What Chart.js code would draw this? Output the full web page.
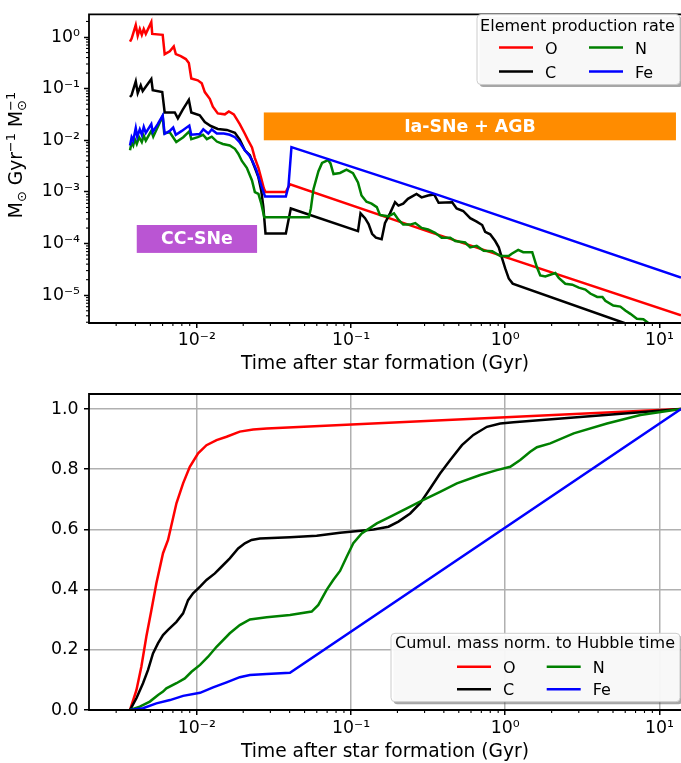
<!DOCTYPE html>
<html><head><meta charset="utf-8">
<script src="https://cdn.jsdelivr.net/npm/chart.js@4/dist/chart.umd.min.js"></script>
<style>
html,body{margin:0;padding:0;background:#fff;overflow:hidden;width:681px;height:763px;}
.wrap{position:absolute;left:0;width:681px;}
</style></head><body>
<div class="wrap" style="top:0;height:375px"><canvas id="c1" width="681" height="375"></canvas></div>
<div class="wrap" style="top:375px;height:388px"><canvas id="c2" width="681" height="388"></canvas></div>
<script>
// ---------------- DATA ----------------
const elementNames = ['O', 'C', 'N', 'Fe'];
const timeRange = [0.002, 13.8];          // Gyr
const rateRange = [2.9e-6, 2.74];         // Msun / Gyr / Msun
const cumulRange = [0, 1.05];
const xTickValues = [0.01, 0.1, 1, 10];
const xTickLabels = ['10⁻²', '10⁻¹', '10⁰', '10¹'];
const rateTickValues = [1e-5, 1e-4, 1e-3, 1e-2, 1e-1, 1];
const rateTickLabels = ['10⁻⁵', '10⁻⁴', '10⁻³', '10⁻²', '10⁻¹', '10⁰'];
const cumulTickValues = [0, 0.2, 0.4, 0.6, 0.8, 1.0];
const cumulTickLabels = ['0.0', '0.2', '0.4', '0.6', '0.8', '1.0'];

// production rate [time (Gyr), rate]
const rateO = [[0.00369,0],[0.00369,0.816],[0.00378,0.93],[0.00402,1.70],[0.00414,1.06],[0.00427,1.43],[0.00440,1.10],[0.00453,1.43],[0.00467,1.15],[0.00507,1.94],[0.00514,1.15],[0.00601,1.10],[0.00619,0.465],[0.00668,0.53],[0.00709,0.657],[0.00731,0.465],[0.00787,0.426],[0.00849,0.374],[0.00888,0.315],[0.00921,0.157],[0.01015,0.145],[0.01077,0.127],[0.01127,0.0859],[0.01214,0.0635],[0.01271,0.0449],[0.01368,0.0332],[0.0152,0.0318],[0.01614,0.0362],[0.01738,0.0318],[0.0190,0.0205],[0.0205,0.01337],[0.0214,0.0103],[0.0228,0.0073],[0.0238,0.00453],[0.0251,0.00294],[0.0262,0.00182],[0.0272,0.00118],[0.0279,0.0010],[0.0378,0.0010],[0.0402,0.00141],[0.326,1.67e-4],[13.8,4.1e-6]];
const rateC = [[0.00369,0],[0.00369,0.0689],[0.00378,0.0755],[0.00402,0.138],[0.00414,0.0823],[0.00433,0.116],[0.00446,0.0898],[0.00507,0.154],[0.00518,0.0937],[0.00597,0.0859],[0.00619,0.0346],[0.00720,0.0346],[0.00754,0.0267],[0.00811,0.0394],[0.00888,0.0608],[0.00921,0.0346],[0.01045,0.0304],[0.01127,0.0225],[0.01233,0.0189],[0.01368,0.0166],[0.01567,0.0159],[0.01767,0.01396],[0.0190,0.0103],[0.0205,0.0064],[0.0221,0.00515],[0.0238,0.00294],[0.0251,0.00191],[0.0262,0.00104],[0.0270,5.2e-4],[0.0279,1.57e-4],[0.0378,1.57e-4],[0.0407,4.78e-4],[0.111,1.74e-4],[0.1153,3.85e-4],[0.1233,3.10e-4],[0.130,2.39e-4],[0.137,1.55e-4],[0.145,1.30e-4],[0.158,1.22e-4],[0.166,2.49e-4],[0.179,3.85e-4],[0.193,6.32e-4],[0.203,5.43e-4],[0.218,5.93e-4],[0.234,7.36e-4],[0.266,9.14e-4],[0.287,7.85e-4],[0.316,8.55e-4],[0.346,8.93e-4],[0.370,6.18e-4],[0.453,6.32e-4],[0.484,4.78e-4],[0.534,4.28e-4],[0.593,3.10e-4],[0.653,2.66e-4],[0.709,2.29e-4],[0.741,1.69e-4],[0.799,1.51e-4],[0.861,1.12e-4],[0.908,8.45e-5],[0.949,5.48e-5],[1.0,3.30e-5],[1.054,2.11e-5],[1.118,1.68e-5],[6.17,2.77e-6],[13.8,1.18e-6]];
const rateN = [[0.00369,0],[0.00369,6.41e-3],[0.00378,9.06e-3],[0.00387,7.94e-3],[0.00396,0.01054],[0.00408,8.49e-3],[0.00423,0.01148],[0.00440,9.25e-3],[0.00453,0.01225],[0.00467,9.87e-3],[0.00507,0.0152],[0.00522,0.01175],[0.00601,0.0291],[0.00615,0.01365],[0.00668,0.01426],[0.00736,9.25e-3],[0.00817,0.01148],[0.00894,0.0149],[0.00921,0.01054],[0.01015,0.01148],[0.01097,0.0128],[0.01162,0.01054],[0.0125,0.01175],[0.01349,9.46e-3],[0.01476,8.49e-3],[0.01637,7.94e-3],[0.01767,6.84e-3],[0.01858,5.51e-3],[0.0196,3.98e-3],[0.0211,2.94e-3],[0.0228,1.67e-3],[0.0238,9.95e-4],[0.0251,9.14e-4],[0.0262,5.93e-4],[0.0274,3.23e-4],[0.0533,3.23e-4],[0.0549,4.78e-4],[0.0571,1.13e-3],[0.0615,2.52e-3],[0.0649,3.65e-3],[0.0710,4.15e-3],[0.0736,3.57e-3],[0.0770,2.22e-3],[0.0849,2.33e-3],[0.0935,2.69e-3],[0.103,2.32e-3],[0.111,1.53e-3],[0.117,8.55e-4],[0.126,6.45e-4],[0.136,5.93e-4],[0.147,5.09e-4],[0.154,3.60e-4],[0.174,3.37e-4],[0.190,3.85e-4],[0.203,2.90e-4],[0.218,2.33e-4],[0.242,2.33e-4],[0.261,2.49e-4],[0.287,2.01e-4],[0.316,1.87e-4],[0.351,1.62e-4],[0.387,1.30e-4],[0.440,1.30e-4],[0.474,1.12e-4],[0.550,1.05e-4],[0.593,8.45e-5],[0.653,9.02e-5],[0.725,7.26e-5],[0.824,7.11e-5],[0.929,5.73e-5],[1.054,5.73e-5],[1.102,6.38e-5],[1.214,7.58e-5],[1.309,6.81e-5],[1.497,6.81e-5],[1.602,3.56e-5],[1.687,2.41e-5],[1.820,2.31e-5],[2.113,2.69e-5],[2.225,2.16e-5],[2.452,1.67e-5],[2.723,1.60e-5],[3.00,1.40e-5],[3.31,1.29e-5],[3.56,1.08e-5],[3.95,9.29e-6],[4.27,9.29e-6],[4.46,7.82e-6],[5.02,6.30e-6],[5.58,6.03e-6],[6.01,5.07e-6],[6.48,4.36e-6],[7.14,3.51e-6],[7.87,3.44e-6],[8.55,2.83e-6],[10.5,2.0e-6],[13.8,1.4e-6]];
const rateFe = [[0.00369,0],[0.00369,7.94e-3],[0.00378,0.01148],[0.00387,9.87e-3],[0.00402,0.01733],[0.00411,0.01175],[0.00427,0.01625],[0.00440,0.0128],[0.00453,0.01811],[0.00467,0.01396],[0.00507,0.0206],[0.00518,0.0146],[0.00558,0.0206],[0.00601,0.0304],[0.00619,0.01337],[0.00668,0.0152],[0.00703,0.0177],[0.00731,0.0128],[0.00800,0.0152],[0.00894,0.0193],[0.00921,0.0128],[0.01045,0.0132],[0.01102,0.0164],[0.01188,0.01355],[0.0125,0.01625],[0.01349,0.01355],[0.01497,0.01355],[0.01637,0.0128],[0.01767,0.01148],[0.0190,9.06e-3],[0.0205,6.40e-3],[0.0218,5.15e-3],[0.0228,4.15e-3],[0.0243,2.69e-3],[0.0262,1.32e-3],[0.0277,8.20e-4],[0.0378,8.20e-4],[0.0393,1.29e-3],[0.0411,7.38e-3],[0.378,8.49e-4],[13.8,2.21e-5]];

// cumulative mass normalised to Hubble time [time (Gyr), fraction]
const cumulO = [[0.00369,0],[0.00406,0.066],[0.00437,0.144],[0.00471,0.244],[0.00508,0.332],[0.00547,0.421],[0.00604,0.521],[0.00651,0.565],[0.00738,0.687],[0.00815,0.753],[0.00901,0.808],[0.0102,0.853],[0.01156,0.880],[0.01343,0.897],[0.0156,0.908],[0.0190,0.925],[0.0232,0.932],[0.0284,0.935],[13.8,1.0]];
const cumulC = [[0.00369,0],[0.00406,0.039],[0.00448,0.089],[0.00483,0.133],[0.00520,0.188],[0.00561,0.222],[0.00604,0.249],[0.00651,0.266],[0.00738,0.293],[0.00815,0.321],[0.00878,0.365],[0.00946,0.388],[0.0105,0.410],[0.01156,0.432],[0.0131,0.454],[0.01446,0.476],[0.01637,0.504],[0.01854,0.537],[0.0205,0.554],[0.02265,0.565],[0.02565,0.570],[0.0402,0.574],[0.0599,0.579],[0.0849,0.589],[0.140,0.600],[0.175,0.609],[0.203,0.626],[0.242,0.653],[0.281,0.687],[0.326,0.736],[0.378,0.786],[0.440,0.831],[0.524,0.880],[0.622,0.914],[0.761,0.941],[0.929,0.952],[1.132,0.956],[2.78,0.972],[7.53,0.989],[13.8,1.0]];
const cumulN = [[0.00369,0],[0.00427,0.011],[0.00496,0.028],[0.00561,0.050],[0.00604,0.061],[0.00635,0.072],[0.00738,0.089],[0.00836,0.105],[0.00924,0.127],[0.0105,0.150],[0.01184,0.177],[0.01343,0.210],[0.01637,0.255],[0.0190,0.282],[0.0221,0.301],[0.0284,0.308],[0.0402,0.316],[0.0556,0.327],[0.0614,0.349],[0.0695,0.399],[0.0767,0.432],[0.0849,0.462],[0.0938,0.509],[0.1035,0.554],[0.1173,0.587],[0.147,0.620],[0.179,0.642],[0.230,0.670],[0.295,0.698],[0.378,0.725],[0.486,0.753],[0.689,0.781],[0.883,0.797],[1.078,0.808],[1.251,0.831],[1.452,0.858],[1.606,0.873],[1.959,0.886],[2.78,0.919],[4.57,0.952],[7.53,0.980],[13.8,1.0]];
const cumulFe = [[0.00369,0],[0.00448,0.006],[0.00547,0.022],[0.00670,0.033],[0.00815,0.047],[0.0105,0.057],[0.01276,0.075],[0.0156,0.092],[0.0190,0.109],[0.0221,0.116],[0.0284,0.120],[0.0402,0.124],[13.8,1.0]];

// annotation regions (time range, rate range)
const phaseLabels = ['CC-SNe', 'Ia-SNe + AGB'];
const phaseTimes = [[0.00408, 0.0246], [0.0272, 12.8]];
const phaseRates = [[6.6e-5, 2.29e-4], [0.01, 0.0346]];

// ---------------- STYLE ----------------
const FONT = '"DejaVu Sans", sans-serif';
const FS_TICK = 17.33, FS_LABEL = 18.67, FS_LEG = 16;
const LW = 2.5;
const lineColors = { O: '#ff0000', C: '#000000', N: '#008000', Fe: '#0000ff' };
const phaseColors = ['#ba55d3', '#ff8c00'];
const drawOrder = { O: 4, C: 3, N: 2, Fe: 1 };

Chart.defaults.font.family = FONT;
Chart.defaults.font.size = FS_TICK;
Chart.defaults.color = '#000';
Chart.defaults.animation = false;

function ds(name, pairs) {
  return {
    label: name,
    data: pairs.map(p => ({ x: p[0], y: p[1] })),
    borderColor: lineColors[name],
    backgroundColor: lineColors[name],
    borderWidth: LW,
    pointRadius: 0,
    tension: 0,
    fill: false,
    order: drawOrder[name]
  };
}

function minorValues(min, max) {
  const out = [];
  for (let e = -7; e <= 2; e++) {
    for (let m = 2; m <= 9; m++) {
      const v = m * Math.pow(10, e);
      if (v > min && v < max) out.push(v);
    }
  }
  return out;
}

function roundRect(ctx, x, y, w, h, r) {
  ctx.beginPath();
  ctx.moveTo(x + r, y);
  ctx.arcTo(x + w, y, x + w, y + h, r);
  ctx.arcTo(x + w, y + h, x, y + h, r);
  ctx.arcTo(x, y + h, x, y, r);
  ctx.arcTo(x, y, x + w, y, r);
  ctx.closePath();
}

function drawLegend(ctx, L) {
  ctx.save();
  roundRect(ctx, L.x + 2.5, L.y + 2.5, L.w, L.h, 4);
  ctx.fillStyle = 'rgba(77,77,77,0.5)';
  ctx.fill();
  roundRect(ctx, L.x, L.y, L.w, L.h, 4);
  ctx.fillStyle = 'rgba(255,255,255,0.92)';
  ctx.fill();
  ctx.strokeStyle = '#cccccc';
  ctx.lineWidth = 1;
  ctx.stroke();
  ctx.fillStyle = '#000';
  ctx.font = FS_LEG + 'px ' + FONT;
  ctx.textBaseline = 'alphabetic';
  ctx.textAlign = 'center';
  ctx.fillText(L.title, L.titleX, L.titleY);
  ctx.textAlign = 'left';
  elementNames.forEach((name, i) => {
    const hx = L.cols[Math.floor(i / 2)], y = L.rows[i % 2];
    ctx.strokeStyle = lineColors[name];
    ctx.lineWidth = LW;
    ctx.beginPath(); ctx.moveTo(hx, y); ctx.lineTo(hx + 34, y); ctx.stroke();
    ctx.fillText(name, hx + 46, y + 6);
  });
  ctx.restore();
}

function drawYTitle(ctx, cx, cy) {
  const F = FS_LABEL, S = 13;
  const f = s => s + 'px ' + FONT;
  ctx.save();
  ctx.translate(cx, cy);
  ctx.rotate(-Math.PI / 2);
  ctx.fillStyle = '#000';
  ctx.textAlign = 'left';
  ctx.textBaseline = 'alphabetic';
  const w = (t, s) => { ctx.font = f(s); return ctx.measureText(t).width; };
  const total = w('M', F) + w('⊙', S) + w(' Gyr', F) + w('−1', S) + w(' M', F) + Math.max(w('⊙', S), w('−1', S));
  let x = -total / 2;
  const put = (t, s, dy) => { ctx.font = f(s); ctx.fillText(t, x, dy); return ctx.measureText(t).width; };
  x += put('M', F, 0);
  x += put('⊙', S, 4);
  x += put(' Gyr', F, 0);
  x += put('−1', S, -7.5);
  x += put(' M', F, 0);
  put('⊙', S, 4);
  put('−1', S, -7.5);
  ctx.restore();
}

const decor = {
  id: 'decor',
  afterDatasetsDraw(chart, args, o) {
    const ctx = chart.ctx, a = chart.chartArea;
    const xs = chart.scales.x, ys = chart.scales.y;
    ctx.save();
    if (o.phases) {
      phaseLabels.forEach((lab, i) => {
        const x0 = xs.getPixelForValue(phaseTimes[i][0]), x1 = xs.getPixelForValue(phaseTimes[i][1]);
        const y0 = ys.getPixelForValue(phaseRates[i][1]), y1 = ys.getPixelForValue(phaseRates[i][0]);
        ctx.fillStyle = phaseColors[i];
        ctx.fillRect(x0, y0, x1 - x0, y1 - y0);
        ctx.fillStyle = '#fff';
        ctx.font = 'bold ' + FS_TICK + 'px ' + FONT;
        ctx.textAlign = 'center';
        ctx.textBaseline = 'middle';
        ctx.fillText(lab, (x0 + x1) / 2, (y0 + y1) / 2 + 1);
      });
    }
    // spines (right spine lies at the canvas edge)
    ctx.strokeStyle = '#000';
    ctx.lineWidth = 1.8;
    ctx.beginPath();
    ctx.moveTo(a.right + 2, a.top); ctx.lineTo(a.left, a.top); ctx.lineTo(a.left, a.bottom); ctx.lineTo(a.right + 2, a.bottom);
    ctx.stroke();
    // minor ticks
    ctx.lineWidth = 1.1;
    minorValues(xs.min, xs.max).forEach(v => {
      const p = xs.getPixelForValue(v);
      ctx.beginPath(); ctx.moveTo(p, a.bottom); ctx.lineTo(p, a.bottom + 3); ctx.stroke();
    });
    if (o.yMinor) {
      minorValues(ys.min, ys.max).forEach(v => {
        const p = ys.getPixelForValue(v);
        ctx.beginPath(); ctx.moveTo(a.left, p); ctx.lineTo(a.left - 3, p); ctx.stroke();
      });
    }
    ctx.restore();
    if (o.legend) drawLegend(ctx, o.legend);
    if (o.yTitle) drawYTitle(ctx, o.yTitle[0], o.yTitle[1]);
  }
};

function xScale(height, onArea, pad) {
  return {
    type: 'logarithmic',
    position: 'bottom',
    min: timeRange[0], max: timeRange[1],
    afterBuildTicks: s => { s.ticks = xTickValues.map(v => ({ value: v })); },
    afterFit: s => { s.height = height; },
    ticks: { autoSkip: false, maxRotation: 0, minRotation: 0, padding: pad, font: { size: FS_TICK },
             callback: (v, i) => xTickLabels[i] },
    grid: { drawOnChartArea: onArea, color: '#b0b0b0', lineWidth: 1.5, drawTicks: true,
            tickLength: 5, tickColor: '#000', tickWidth: 1.5 },
    border: { display: false },
    title: { display: true, text: 'Time after star formation (Gyr)', font: { size: FS_LABEL },
             padding: { top: 0, bottom: 0 } }
  };
}

// ---------------- TOP: production rate ----------------
new Chart(document.getElementById('c1'), {
  type: 'line',
  data: { datasets: [ds('O', rateO), ds('C', rateC), ds('N', rateN), ds('Fe', rateFe)] },
  options: {
    responsive: false, maintainAspectRatio: false, devicePixelRatio: 1,
    layout: { padding: { top: 5, left: 0, right: 0, bottom: 0 } },
    plugins: {
      legend: { display: false }, tooltip: { enabled: false },
      decor: {
        phases: true, yMinor: true, yTitle: [22, 155],
        legend: { x: 477, y: 14.5, w: 203, h: 70, title: 'Element production rate',
                  titleX: 577.5, titleY: 30.7, cols: [499, 589], rows: [47.5, 71.5] }
      }
    },
    scales: {
      x: xScale(52, false, 2.5),
      y: {
        type: 'logarithmic',
        min: rateRange[0], max: rateRange[1],
        afterBuildTicks: s => { s.ticks = rateTickValues.map(v => ({ value: v })); },
        afterFit: s => { s.width = 89; },
        ticks: { autoSkip: false, padding: 4, font: { size: FS_TICK }, callback: (v, i) => rateTickLabels[i] },
        grid: { drawOnChartArea: false, drawTicks: true, tickLength: 5, tickColor: '#000', tickWidth: 1.5 },
        border: { display: false }
      }
    }
  },
  plugins: [decor]
});

// ---------------- BOTTOM: cumulative mass ----------------
new Chart(document.getElementById('c2'), {
  type: 'line',
  data: { datasets: [ds('O', cumulO), ds('C', cumulC), ds('N', cumulN), ds('Fe', cumulFe)] },
  options: {
    responsive: false, maintainAspectRatio: false, devicePixelRatio: 1,
    layout: { padding: { top: 19, left: 0, right: 0, bottom: 0 } },
    plugins: {
      legend: { display: false }, tooltip: { enabled: false },
      decor: {
        phases: false, yMinor: false,
        legend: { x: 391, y: 258.3, w: 289, h: 68.4, title: 'Cumul. mass norm. to Hubble time',
                  titleX: 535, titleY: 273.3, cols: [457, 546.7], rows: [291.7, 314.3] }
      }
    },
    scales: {
      x: xScale(53, true, 3.5),
      y: {
        type: 'linear',
        min: cumulRange[0], max: cumulRange[1],
        afterBuildTicks: s => { s.ticks = cumulTickValues.map(v => ({ value: v })); },
        afterFit: s => { s.width = 89; },
        ticks: { autoSkip: false, padding: 5.5, font: { size: FS_TICK }, callback: (v, i) => cumulTickLabels[i] },
        grid: { drawOnChartArea: true, color: '#b0b0b0', lineWidth: 1.5, drawTicks: true,
                tickLength: 5, tickColor: '#000', tickWidth: 1.5 },
        border: { display: false }
      }
    }
  },
  plugins: [decor]
});
</script>
</body></html>
